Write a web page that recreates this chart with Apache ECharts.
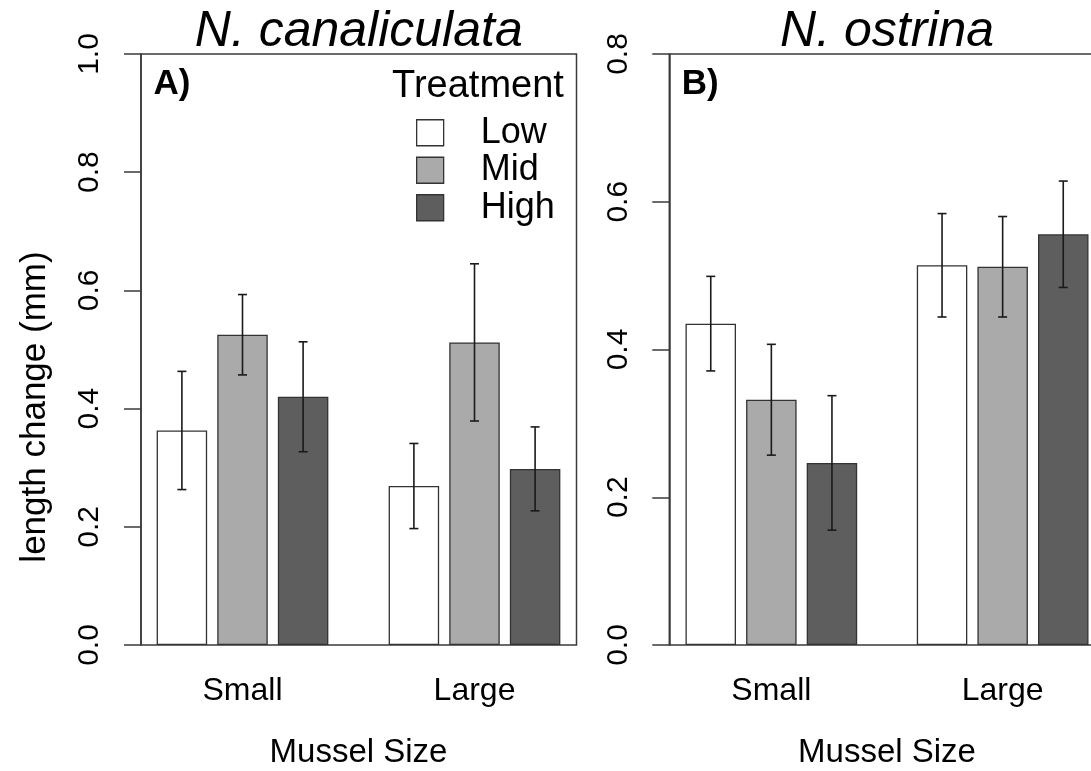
<!DOCTYPE html>
<html><head><meta charset="utf-8">
<script src="https://cdn.jsdelivr.net/npm/echarts@6/dist/echarts.min.js"></script>
<style>html,body{margin:0;padding:0;background:#fff}#c{width:1091px;height:771px}</style>
</head><body><div id="c"></div>
<script>
// ---- data ----
const categories = ['Small', 'Large'];
const treatments = ['Low', 'Mid', 'High'];
const canalLow = [0.363, 0.269];
const canalMid = [0.525, 0.512];
const canalHigh = [0.420, 0.298];
const canalLowSE = [0.100, 0.072];
const canalMidSE = [0.068, 0.133];
const canalHighSE = [0.093, 0.071];
const ostLow = [0.435, 0.514];
const ostMid = [0.332, 0.512];
const ostHigh = [0.2465, 0.556];
const ostLowSE = [0.064, 0.070];
const ostMidSE = [0.075, 0.068];
const ostHighSE = [0.091, 0.072];
const yTicksCanal = [0, 0.2, 0.4, 0.6, 0.8, 1.0];
const yTicksOst = [0, 0.2, 0.4, 0.6, 0.8];

// ---- style / layout ----
const FONT = '"Liberation Sans", Arial, Helvetica, sans-serif';
const LINE = '#3a3a3a';
const BW = 50.5, GAP = 10.1;
const fills = ['#ffffff', '#aaaaaa', '#5e5e5e'];
const TOP = 54, H = 591, FW = 435.5;

const panels = [
  { frameLeft: 141, dataLeft: 126.5, dataWidth: 464, ticks: yTicksCanal,
    title: 'N. canaliculata', tag: 'A)', means: [canalLow, canalMid, canalHigh],
    ses: [canalLowSE, canalMidSE, canalHighSE] },
  { frameLeft: 669.3, dataLeft: 655.7, dataWidth: 462.6, ticks: yTicksOst,
    title: 'N. ostrina', tag: 'B)', means: [ostLow, ostMid, ostHigh],
    ses: [ostLowSE, ostMidSE, ostHighSE] }
];

const grid = [], xAxis = [], yAxis = [], series = [], graphic = [];
panels.forEach((p, i) => {
  const fi = 2 * i, di = 2 * i + 1;
  const max = p.ticks[p.ticks.length - 1];
  grid.push({ left: p.frameLeft, top: TOP, width: FW, height: H, show: true,
    outerBoundsMode: 'none', containLabel: false,
    borderColor: LINE, borderWidth: 1.5, backgroundColor: 'transparent' });
  grid.push({ left: p.dataLeft, top: TOP, width: p.dataWidth, height: H, show: false,
    outerBoundsMode: 'none', containLabel: false });
  xAxis.push({ gridIndex: fi, type: 'category', data: categories, show: false });
  xAxis.push({ gridIndex: di, type: 'category', data: categories,
    axisLine: { show: false }, axisTick: { show: false },
    axisLabel: { fontSize: 32, fontFamily: FONT, color: '#000', margin: 30 },
    name: 'Mussel Size', nameLocation: 'middle', nameGap: 91,
    nameTextStyle: { fontSize: 33, fontFamily: FONT, color: '#000' } });
  yAxis.push({ gridIndex: fi, type: 'value', min: 0, max: max, interval: 0.2,
    axisLine: { show: true, lineStyle: { color: LINE, width: 1.5 } },
    axisTick: { show: true, length: 17, lineStyle: { color: LINE, width: 1.5 } },
    splitLine: { show: false },
    axisLabel: { rotate: 90, margin: 36, fontSize: 30, fontFamily: FONT, color: '#000',
      showMinLabel: true, showMaxLabel: true, formatter: v => v.toFixed(1) } });
  yAxis.push({ gridIndex: di, type: 'value', min: 0, max: max, show: false });

  treatments.forEach((t, k) => {
    series.push({ type: 'bar', name: t, xAxisIndex: di, yAxisIndex: di,
      data: p.means[k], barWidth: BW, barGap: '20%', silent: true,
      itemStyle: { color: fills[k], borderColor: '#333', borderWidth: 1.3 } });
  });
  treatments.forEach((t, k) => {
    const off = (k - 1) * (BW + GAP);
    series.push({ type: 'custom', name: t + ' SE', xAxisIndex: di, yAxisIndex: di, z: 5,
      silent: true,
      data: categories.map((c, j) => [j, p.means[k][j] - p.ses[k][j], p.means[k][j] + p.ses[k][j]]),
      renderItem: (params, api) => {
        const lo = api.coord([api.value(0), api.value(1)]);
        const hi = api.coord([api.value(0), api.value(2)]);
        const x = lo[0] + off, cw = 4.5;
        const st = { stroke: '#1a1a1a', lineWidth: 1.6 };
        return { type: 'group', children: [
          { type: 'line', shape: { x1: x, y1: lo[1], x2: x, y2: hi[1] }, style: st },
          { type: 'line', shape: { x1: x - cw, y1: lo[1], x2: x + cw, y2: lo[1] }, style: st },
          { type: 'line', shape: { x1: x - cw, y1: hi[1], x2: x + cw, y2: hi[1] }, style: st }
        ] };
      } });
  });

  const cx = p.frameLeft + FW / 2;
  graphic.push({ type: 'text', x: cx, y: 32, silent: true,
    style: { text: p.title, fontSize: 50, fontStyle: 'italic', fontFamily: FONT, fill: '#000',
      align: 'center', verticalAlign: 'middle', textAlign: 'center', textVerticalAlign: 'middle' } });
  graphic.push({ type: 'text', x: p.frameLeft + 12.5, y: 84, silent: true,
    style: { text: p.tag, fontSize: 35, fontWeight: 'bold', fontFamily: FONT, fill: '#000',
      align: 'left', verticalAlign: 'middle', textAlign: 'left', textVerticalAlign: 'middle' } });
});

graphic.push({ type: 'text', x: 478, y: 87, silent: true,
  style: { text: 'Treatment', fontSize: 38, fontFamily: FONT, fill: '#000',
    align: 'center', verticalAlign: 'middle', textAlign: 'center', textVerticalAlign: 'middle' } });
graphic.push({ type: 'text', x: 35, y: 407, rotation: Math.PI / 2, silent: true,
  style: { text: 'length change (mm)', fontSize: 35, fontFamily: FONT, fill: '#000',
    align: 'center', verticalAlign: 'middle', textAlign: 'center', textVerticalAlign: 'middle' } });

const chart = echarts.init(document.getElementById('c'), null, { renderer: 'canvas' });
chart.setOption({
  animation: false,
  backgroundColor: '#fff',
  grid, xAxis, yAxis, series, graphic,
  legend: { data: treatments, left: 416, top: 114, padding: 0, orient: 'vertical', icon: 'rect',
    itemWidth: 27, itemHeight: 26, itemGap: 0, selectedMode: false,
    itemStyle: { borderColor: '#333', borderWidth: 1.3 },
    textStyle: { fontSize: 36, fontFamily: FONT, color: '#000', lineHeight: 37.5,
      padding: [0, 0, 0, 32] } }
});
</script></body></html>
